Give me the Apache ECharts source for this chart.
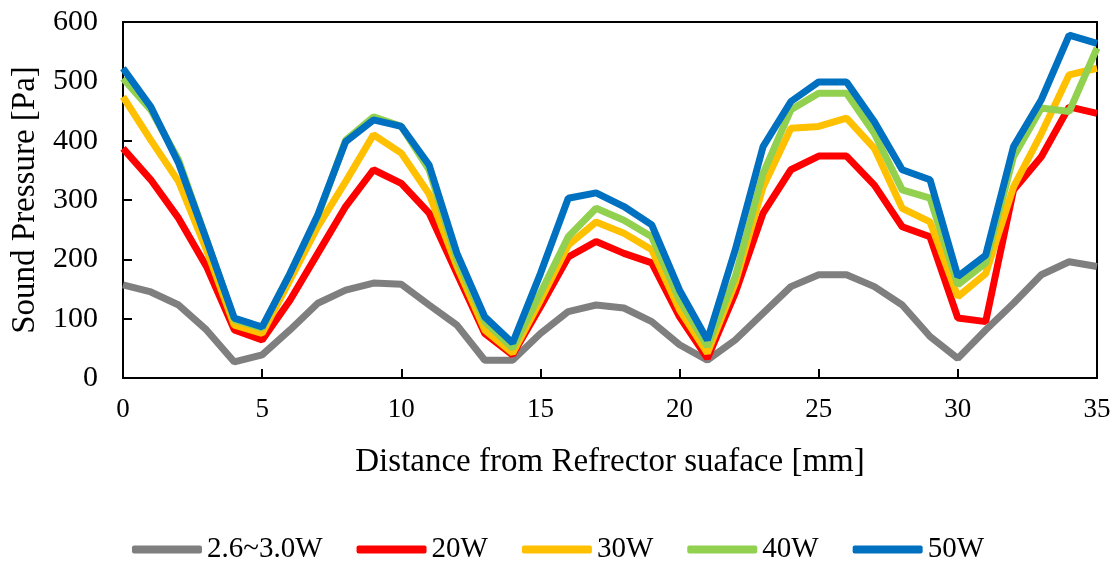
<!DOCTYPE html>
<html>
<head>
<meta charset="utf-8">
<script src="https://cdn.jsdelivr.net/npm/echarts@6/dist/echarts.min.js"></script>
<style>
  body { margin: 0; background: #fff; }
  #chart { width: 1116px; height: 565px; }
</style>
</head>
<body>
<div id="chart"></div>
<script>
// distance from reflector surface [mm]
const distance = [0, 1, 2, 3, 4, 5, 6, 7, 8, 9, 10, 11, 12, 13, 14, 15, 16, 17,
  18, 19, 20, 21, 22, 23, 24, 25, 26, 27, 28, 29, 30, 31, 32, 33, 34, 35];

// sound pressure [Pa] per power level
const p_low = [157, 145, 123, 81, 27, 39, 81, 126, 148, 160, 158, 123, 89, 30, 30, 75, 112, 123,
  118, 95, 56, 30, 64, 109, 154, 174, 174, 154, 123, 70, 33, 81, 126, 174, 196, 188];
const p_20w = [387, 334, 269, 188, 81, 64, 131, 210, 289, 351, 328, 278, 176, 75, 39, 120, 204, 230,
  210, 194, 103, 33, 143, 278, 351, 374, 374, 325, 255, 238, 101, 95, 317, 373, 457, 446];
const p_30w = [474, 401, 331, 216, 89, 75, 165, 255, 331, 410, 379, 310, 188, 81, 42, 131, 224, 263,
  244, 216, 115, 42, 160, 322, 421, 424, 438, 387, 286, 263, 137, 176, 322, 412, 511, 522];
const p_40w = [505, 452, 367, 233, 98, 84, 176, 272, 401, 440, 424, 351, 199, 95, 50, 143, 238, 286,
  266, 238, 131, 53, 171, 345, 452, 480, 480, 412, 317, 303, 157, 194, 373, 455, 449, 556];
const p_50w = [522, 457, 362, 233, 101, 86, 176, 275, 398, 435, 424, 359, 210, 103, 59, 176, 303, 312,
  289, 258, 148, 64, 216, 390, 466, 499, 499, 432, 351, 334, 171, 207, 390, 469, 578, 564];

const seriesNames = ["2.6~3.0W", "20W", "30W", "40W", "50W"];
const seriesData = [p_low, p_20w, p_30w, p_40w, p_50w];
const colors = ["#7f7f7f", "#ff0000", "#ffc000", "#92d050", "#0070c0"];

const FONT = "Liberation Serif";

const chart = echarts.init(document.getElementById("chart"));
chart.setOption({
  animation: false,
  color: colors,
  textStyle: { fontFamily: FONT, color: "#000" },
  grid: {
    left: 123,
    right: 19,
    top: 22,
    bottom: 187,
    show: true,
    borderColor: "#000",
    borderWidth: 2
  },
  legend: {
    data: seriesNames,
    left: "center",
    top: 530,
    itemWidth: 70,
    itemHeight: 8,
    itemGap: 34,
    icon: "roundRect",
    textStyle: { fontFamily: FONT, fontSize: 29, color: "#000" }
  },
  xAxis: {
    type: "value",
    min: 0,
    max: 35,
    interval: 5,
    name: "Distance from Refrector suaface [mm]",
    nameLocation: "middle",
    nameGap: 68,
    nameTextStyle: { fontFamily: FONT, fontSize: 33, color: "#000" },
    axisLine: { lineStyle: { color: "#000", width: 2 } },
    axisTick: { inside: true, length: 9, lineStyle: { color: "#000", width: 2 } },
    axisLabel: { fontFamily: FONT, fontSize: 27, color: "#000", margin: 18 },
    splitLine: { show: false }
  },
  yAxis: {
    type: "value",
    min: 0,
    max: 600,
    interval: 100,
    name: "Sound Pressure [Pa]",
    nameLocation: "middle",
    nameGap: 80,
    nameTextStyle: { fontFamily: FONT, fontSize: 33, color: "#000" },
    axisLine: { show: true, lineStyle: { color: "#000", width: 2 } },
    axisTick: { show: true, inside: true, length: 9, lineStyle: { color: "#000", width: 2 } },
    axisLabel: { fontFamily: FONT, fontSize: 30, color: "#000", margin: 25 },
    splitLine: { show: false }
  },
  series: seriesNames.map((name, i) => ({
    name: name,
    type: "line",
    data: distance.map((d, j) => [d, seriesData[i][j]]),
    showSymbol: false,
    symbol: "none",
    lineStyle: { width: 7, color: colors[i] },
    itemStyle: { color: colors[i] }
  }))
});
</script>
</body>
</html>
